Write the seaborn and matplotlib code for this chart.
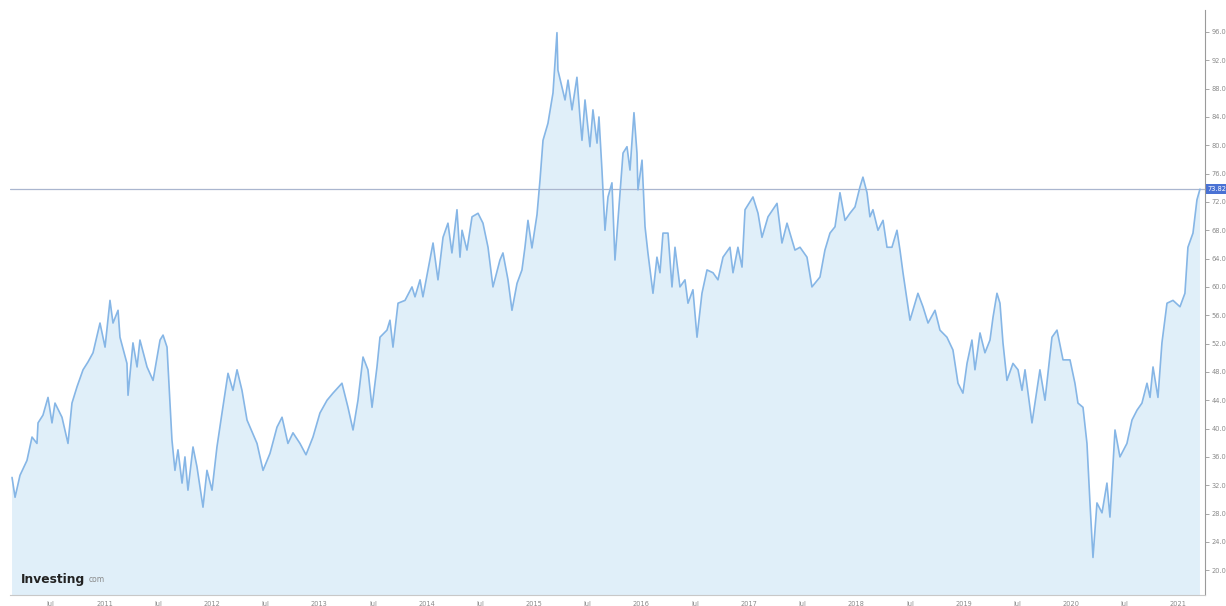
import numpy as np
import pandas as pd
import matplotlib
matplotlib.use('Agg')
import matplotlib.pyplot as plt
import seaborn as sns

# time as fractional year, price
years = [
    2010.140, 2010.168, 2010.214, 2010.279, 2010.326, 2010.372, 2010.382, 2010.428, 2010.475, 2010.512,
    2010.540, 2010.605, 2010.661, 2010.698, 2010.745, 2010.801, 2010.847, 2010.894, 2010.959, 2011.006,
    2011.052, 2011.080, 2011.127, 2011.145, 2011.210, 2011.220, 2011.266, 2011.304, 2011.331, 2011.397,
    2011.453, 2011.518, 2011.546, 2011.583, 2011.629, 2011.657, 2011.685, 2011.723, 2011.750, 2011.778,
    2011.825, 2011.862, 2011.918, 2011.955, 2012.002, 2012.048, 2012.095, 2012.151, 2012.197, 2012.235,
    2012.281, 2012.328, 2012.421, 2012.477, 2012.542, 2012.607, 2012.654, 2012.709, 2012.756, 2012.821,
    2012.877, 2012.942, 2013.007, 2013.073, 2013.128, 2013.212, 2013.268, 2013.315, 2013.361, 2013.408,
    2013.454, 2013.492, 2013.538, 2013.566, 2013.631, 2013.659, 2013.687, 2013.734, 2013.799, 2013.864,
    2013.892, 2013.939, 2013.966, 2014.013, 2014.060, 2014.106, 2014.153, 2014.199, 2014.236, 2014.283,
    2014.311, 2014.330, 2014.376, 2014.423, 2014.479, 2014.525, 2014.572, 2014.618, 2014.683, 2014.711,
    2014.758, 2014.795, 2014.842, 2014.888, 2014.916, 2014.944, 2014.981, 2015.028, 2015.056, 2015.084,
    2015.130, 2015.177, 2015.214, 2015.223, 2015.261, 2015.289, 2015.317, 2015.354, 2015.400, 2015.428,
    2015.447, 2015.475, 2015.521, 2015.549, 2015.587, 2015.605, 2015.633, 2015.661, 2015.689, 2015.726,
    2015.754, 2015.801, 2015.829, 2015.866, 2015.894, 2015.931, 2015.959, 2015.968, 2016.006, 2016.034,
    2016.061, 2016.108, 2016.145, 2016.173, 2016.201, 2016.248, 2016.285, 2016.313, 2016.359, 2016.406,
    2016.434, 2016.480, 2016.518, 2016.564, 2016.611, 2016.667, 2016.713, 2016.760, 2016.825, 2016.853,
    2016.899, 2016.937, 2016.965, 2017.039, 2017.086, 2017.123, 2017.179, 2017.263, 2017.309, 2017.356,
    2017.430, 2017.477, 2017.542, 2017.588, 2017.663, 2017.709, 2017.756, 2017.803, 2017.849, 2017.896,
    2017.942, 2017.989, 2018.035, 2018.063, 2018.101, 2018.128, 2018.156, 2018.203, 2018.250, 2018.287,
    2018.333, 2018.380, 2018.408, 2018.436, 2018.501, 2018.575, 2018.622, 2018.669, 2018.734, 2018.780,
    2018.845, 2018.901, 2018.948, 2018.994, 2019.032, 2019.078, 2019.106, 2019.153, 2019.199, 2019.246,
    2019.274, 2019.311, 2019.339, 2019.367, 2019.404, 2019.460, 2019.507, 2019.544, 2019.572, 2019.637,
    2019.711, 2019.758, 2019.823, 2019.870, 2019.926, 2019.991, 2020.037, 2020.065, 2020.112, 2020.149,
    2020.177, 2020.205, 2020.242, 2020.289, 2020.335, 2020.363, 2020.410, 2020.456, 2020.521, 2020.568,
    2020.615, 2020.661, 2020.708, 2020.736, 2020.764, 2020.810, 2020.847, 2020.894, 2020.950, 2021.015,
    2021.061, 2021.089, 2021.136, 2021.173, 2021.201,
]
prices = [
    33.1, 30.3, 33.4, 35.5, 38.8, 37.9, 40.8, 41.9, 44.4, 40.8,
    43.6, 41.6, 37.9, 43.6, 45.9, 48.3, 49.4, 50.7, 54.9, 51.5,
    58.1, 54.9, 56.7, 52.9, 49.2, 44.7, 52.1, 48.7, 52.5, 48.7,
    46.8, 52.5, 53.2, 51.5, 38.4, 34.1, 37.0, 32.3, 36.0, 31.3,
    37.4, 34.6, 28.9, 34.1, 31.3, 37.4, 42.2, 47.8, 45.4, 48.3,
    45.4, 41.2, 37.9, 34.1, 36.5, 40.2, 41.6, 37.9, 39.4, 37.9,
    36.3, 38.8, 42.2, 44.0, 45.0, 46.4, 43.0, 39.8, 44.0, 50.1,
    48.3, 43.0, 48.7, 52.9, 53.9, 55.3, 51.5, 57.7, 58.1, 60.0,
    58.6, 61.0, 58.6, 62.4, 66.2, 61.0, 67.0, 69.0, 64.8, 70.9,
    64.2, 68.0, 65.2, 69.9, 70.4, 69.0, 65.6, 60.0, 63.8, 64.8,
    61.0, 56.7, 60.5, 62.4, 65.6, 69.4, 65.5, 70.2, 75.1, 80.7,
    83.1, 87.4, 95.9, 90.6, 88.2, 86.4, 89.2, 85.0, 89.6, 84.0,
    80.7, 86.4, 79.8, 85.0, 80.3, 84.0, 76.5, 68.0, 72.7, 74.7,
    63.8, 73.3, 78.9, 79.8, 76.5, 84.6, 78.9, 73.7, 77.9, 68.5,
    64.8, 59.1, 64.2, 62.0, 67.6, 67.6, 60.0, 65.6, 60.0, 61.0,
    57.7, 59.6, 52.9, 59.1, 62.4, 62.0, 61.0, 64.2, 65.6, 62.0,
    65.6, 62.8, 70.9, 72.7, 70.4, 67.0, 69.9, 71.8, 66.2, 69.0,
    65.2, 65.6, 64.2, 60.0, 61.4, 65.2, 67.6, 68.5, 73.3, 69.4,
    70.4, 71.3, 74.1, 75.5, 73.3, 69.9, 70.9, 68.0, 69.4, 65.6,
    65.6, 68.0, 65.2, 62.0, 55.3, 59.1, 57.2, 54.9, 56.7, 53.9,
    52.9, 51.1, 46.4, 45.0, 49.2, 52.5, 48.3, 53.5, 50.7, 52.5,
    55.7, 59.1, 57.7, 52.1, 46.8, 49.2, 48.3, 45.4, 48.3, 40.8,
    48.3, 44.0, 52.9, 53.9, 49.7, 49.7, 46.4, 43.6, 43.0, 37.9,
    29.5, 21.8, 29.5, 28.1, 32.3, 27.5, 39.8, 36.0, 37.9, 41.2,
    42.6, 43.6, 46.4, 44.4, 48.7, 44.4, 52.1, 57.7, 58.1, 57.2,
    59.1, 65.6, 67.6, 72.3, 73.8,
]
last_price = 73.82

tick_years = [2010.5, 2011, 2011.5, 2012, 2012.5, 2013, 2013.5, 2014, 2014.5, 2015, 2015.5,
              2016, 2016.5, 2017, 2017.5, 2018, 2018.5, 2019, 2019.5, 2020, 2020.5, 2021]
tick_labels = ['Jul', '2011', 'Jul', '2012', 'Jul', '2013', 'Jul', '2014', 'Jul', '2015', 'Jul',
               '2016', 'Jul', '2017', 'Jul', '2018', 'Jul', '2019', 'Jul', '2020', 'Jul', '2021']
price_ticks = list(range(20, 97, 4))

df = pd.DataFrame({'year': years, 'price': prices})

sns.set_style('white')
plt.rcParams['font.family'] = ['DejaVu Sans']

line_color = '#86b6e6'
fill_color = '#e0eff9'
grey = '#9a9a9a'

fig = plt.figure(figsize=(12.26, 6.06), dpi=100)
ax = fig.add_axes([10 / 1226, 11 / 606, 1195 / 1226, 585 / 606])

ax.fill_between(df['year'], df['price'], 0, color=fill_color, linewidth=0, zorder=1)
sns.lineplot(data=df, x='year', y='price', ax=ax, color=line_color, linewidth=1.2, zorder=3)

ax.axhline(last_price, color='#aab6cf', linewidth=0.9, zorder=2)

ax.set_xlim(2010.121, 2021.248)
ax.set_ylim(16.5, 99.1)
ax.set_xlabel('')
ax.set_ylabel('')

ax.set_xticks(tick_years)
ax.set_xticklabels(tick_labels)
ax.yaxis.tick_right()
ax.set_yticks(price_ticks)
ax.set_yticklabels([f'{v:.2f}' for v in price_ticks])
ax.tick_params(axis='y', direction='out', length=3, width=0.6, color=grey,
               labelsize=4.8, labelcolor='#8a8a8a', pad=1.5)
ax.tick_params(axis='x', direction='out', length=3, width=0.6, color='#c8c8c8',
               labelsize=4.8, labelcolor='#8a8a8a', pad=1)

for side in ['top', 'left']:
    ax.spines[side].set_visible(False)
ax.spines['right'].set_color(grey)
ax.spines['right'].set_linewidth(0.8)
ax.spines['bottom'].set_color('#c8c8c8')
ax.spines['bottom'].set_linewidth(0.8)

# current price marker on the axis
ax.annotate(f'{last_price:.2f}', xy=(1.0, last_price), xycoords=('axes fraction', 'data'),
            xytext=(2, 0), textcoords='offset points', ha='left', va='center',
            fontsize=4.8, color='white',
            bbox=dict(boxstyle='square,pad=0.25', fc='#4a72d4', ec='none'),
            annotation_clip=False, zorder=5)

# watermark
ax.text(0.009, 0.015, 'Investing', transform=ax.transAxes, fontsize=8.8,
        fontweight='bold', color='#222222', ha='left', va='bottom', zorder=4)
ax.text(0.0655, 0.019, 'com', transform=ax.transAxes, fontsize=5.5,
        color='#8a8a8a', ha='left', va='bottom', zorder=4)

fig.savefig('out.png', dpi=100)
